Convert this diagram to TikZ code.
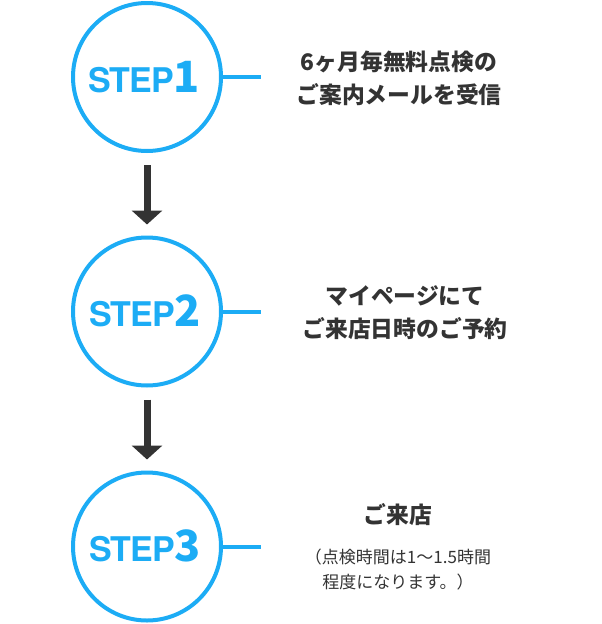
\documentclass[tikz,border=0pt]{standalone}
\usepackage{fontspec}
\setmainfont{Noto Sans CJK JP}
\newfontfamily\stepfont{TeX Gyre Heros}[LetterSpace=-3]
\usetikzlibrary{arrows.meta}
\definecolor{stepblue}{RGB}{28,172,245}
\definecolor{ink}{RGB}{51,51,51}
\tikzset{
  stepcircle/.style={circle,draw=stepblue,line width=4pt,minimum size=148pt,inner sep=0pt},
  steplabel/.style={anchor=base,text=stepblue,inner sep=0pt},
  tick/.style={draw=stepblue,line width=4pt},
  flowarrow/.style={draw=ink,line width=7pt,-{Triangle[width=30pt,length=14pt]},shorten <=12pt,shorten >=11pt},
  desc/.style={text=ink,align=center,inner sep=0pt,font=\bfseries\fontsize{22.8pt}{33pt}\selectfont},
  note/.style={text=ink,align=center,inner sep=0pt,font=\fontsize{17pt}{25pt}\selectfont}
}
\newcommand{\steptext}[1]{{\stepfont\bfseries\fontsize{34pt}{34pt}\selectfont STEP}{\bfseries\fontsize{43pt}{43pt}\selectfont #1}}
\begin{document}
\begin{tikzpicture}[x=1pt,y=-1pt]
\useasboundingbox (0,0) rectangle (602,624);
\node[stepcircle] (c1) at (147,77) {};
\node[stepcircle] (c2) at (147,311.5) {};
\node[stepcircle] (c3) at (147,546.5) {};
\node[steplabel] (s1) at (144,92) {\steptext{1}};
\node[steplabel] (s2) at (145,326.5) {\steptext{2}};
\node[steplabel] (s3) at (145,561.5) {\steptext{3}};
\coordinate (e1) at (261,77);
\coordinate (e2) at (261,311.5);
\coordinate (e3) at (261,546.5);
\draw[tick] (c1.east) -- (e1);
\draw[tick] (c2.east) -- (e2);
\draw[tick] (c3.east) -- (e3);
\draw[flowarrow] (c1.south) -- (c2.north);
\draw[flowarrow] (c2.south) -- (c3.north);
\node[desc] (t1) at (399,78.5) {6ヶ月毎無料点検の\\ご案内メールを受信};
\node[desc] (t2) at (405,312.5) {マイページにて\\ご来店日時のご予約};
\node[desc] (t3) at (398,515) {ご来店};
\node[note] (n3) at (398,569.5) {（点検時間は1〜1.5時間\\程度になります。）};
\end{tikzpicture}
\end{document}
